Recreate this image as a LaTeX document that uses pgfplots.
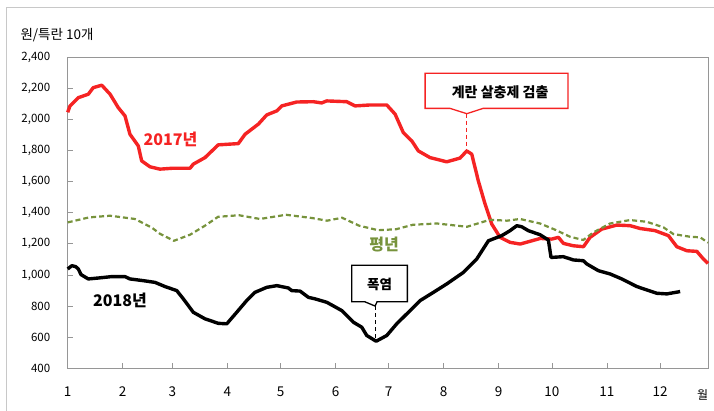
\documentclass[border=0pt]{standalone}
\usepackage{fontspec}
\setmainfont{Noto Sans CJK KR}
\usepackage{pgfplots}
\pgfplotsset{compat=1.18}
\definecolor{myred}{RGB}{245,35,35}
\definecolor{olive}{RGB}{119,147,60}
\definecolor{axgray}{RGB}{150,150,150}
\definecolor{framegray}{RGB}{200,200,200}
\begin{document}
\begin{tikzpicture}
\useasboundingbox (-67.7bp,-42.5bp) rectangle (646.3bp,368.5bp);
\draw[framegray, line width=0.8bp] (-61.7bp,-50bp) -- (-61.7bp,361.5bp) -- (660bp,361.5bp);
\begin{axis}[
  at={(0,0)}, anchor=south west,
  scale only axis, width=640.3bp, height=311.5bp,
  xmin=1, xmax=362, ymin=400, ymax=2400,
  xtick={1,32,60,91,121,152,182,213,244,274,305,335},
  xticklabels={1,2,3,4,5,6,7,8,9,10,11,12},
  ytick={400,600,...,2400},
  axis line style={draw=axgray, line width=0.8bp},
  tick style={draw=axgray, line width=0.8bp},
  major tick length=5bp,
  tick align=inside,
  tick pos=left,
  /pgf/number format/.cd, 1000 sep={,}, assume math mode=true,
  /pgfplots/.cd,
  xticklabel style={font=\fontsize{13.5bp}{15bp}\selectfont, yshift=-15bp},
  yticklabel style={font=\fontsize{11.5bp}{13bp}\selectfont, xshift=-14bp},
  clip=false,
]
% 2017
\addplot[myred, line width=3.4bp, line join=round] coordinates {
(1,2045)(2.3,2086)(7,2139)(12.6,2161)(15.4,2203)(20.2,2219)(24.9,2161)(29.5,2075)(33.3,2022)(36.1,1904)(40.8,1829)(42.7,1733)(47.4,1695)(53,1680)(60.5,1686)(70,1686)(71.8,1712)(78.4,1754)(85.9,1836)(97.2,1844)(101,1904)(108.5,1969)(113.2,2028)(118.9,2054)(121.7,2086)(130.1,2111)(139.5,2113)(144.2,2105)(147,2118)(158.3,2113)(163,2086)(171.5,2092)(180.9,2092)(185.6,2033)(190.2,1915)(195,1861)(198.7,1797)(205.3,1754)(214.7,1727)(222.2,1751)(226,1797)(228.8,1776)(232.5,1605)(236.3,1456)(240.1,1327)(244.8,1242)(250.4,1210)(256.1,1199)(267.4,1235)(273.9,1231)(277.7,1242)(280.5,1203)(286.1,1188)(291.8,1182)(295.5,1242)(302.1,1295)(310.6,1321)(318.1,1317)(323.7,1299)(332.2,1285)(339.7,1253)(344.4,1182)(350.1,1156)(355.7,1152)(359.4,1103)(362,1075)
};
% average
\addplot[olive, line width=2.2bp, dash pattern=on 5bp off 3bp] coordinates {
(1,1338)(13,1370)(24.9,1381)(38.9,1360)(48.5,1304)(53,1265)(60.9,1220)(70,1259)(78.4,1317)(85.8,1374)(97.6,1384)(109.4,1360)(124.1,1387)(138.8,1366)(147.2,1349)(155.7,1368)(165.3,1317)(176,1288)(186.1,1294)(195.7,1323)(209.2,1331)(226.1,1310)(239.1,1355)(248.7,1349)(256,1360)(267.3,1331)(275.8,1291)(284.2,1246)(291.7,1225)(297.4,1274)(306.8,1331)(318.1,1353)(327.5,1342)(336.9,1306)(342.5,1263)(351.9,1246)(357.6,1242)(362,1208)
};
% 2018
\addplot[black, line width=3.4bp, line join=round] coordinates {
(1,1039)(3.3,1060)(5.5,1054)(7,1039)(8.5,1003)(12.6,975)(18.3,981)(25.8,990)(33.3,990)(36.1,975)(43.6,964)(50.2,953)(55.9,926)(62.5,900)(66.2,847)(71.8,761)(78.4,719)(85.9,690)(90.7,687)(96.3,761)(101.9,836)(106.6,889)(113.2,921)(118.9,932)(125.4,917)(127.3,900)(132,897)(136.7,857)(140.5,847)(147.1,825)(155.5,772)(162.1,697)(166.8,665)(169.6,612)(174.9,575)(180.9,612)(186.5,687)(192.2,751)(199.7,836)(207.2,889)(214.7,943)(224.1,1017)(231.6,1103)(238.2,1220)(245.7,1253)(250.4,1285)(254.2,1317)(257,1310)(260.7,1285)(267.3,1259)(272,1225)(273.5,1113)(280.4,1118)(286.1,1097)(291.7,1092)(293.7,1071)(300.2,1028)(306.8,1007)(313.4,975)(321.9,926)(333.1,883)(338.8,879)(346.3,894)
};
% callouts
\draw[myred, line width=1.3bp, dash pattern=on 4bp off 3bp] (axis cs:226,2036) -- (axis cs:226,1800);
\draw[myred, line width=1.3bp, fill=white] (axis cs:202.5,2296) -- (axis cs:283.1,2296) -- (axis cs:283.1,2070) -- (axis cs:235.2,2070) -- (axis cs:226,2036) -- (axis cs:216.6,2070) -- (axis cs:202.5,2070) -- cycle;
\node[font=\bfseries\fontsize{14bp}{16bp}\selectfont] at (axis cs:244.8,2174) {계란 살충제 검출};
\draw[black, line width=1bp, dash pattern=on 4bp off 3bp] (axis cs:174.3,801) -- (axis cs:174.3,583);
\draw[black, line width=1.3bp, fill=white] (axis cs:161.1,1063) -- (axis cs:192.5,1063) -- (axis cs:192.5,828) -- (axis cs:175.4,828) -- (axis cs:174.3,801) -- (axis cs:168.6,828) -- (axis cs:161.1,828) -- cycle;
\node[font=\bfseries\fontsize{13.5bp}{15bp}\selectfont] at (axis cs:176.8,940) {폭염};
% series labels
\node[myred, font=\bfseries\fontsize{16bp}{18bp}\selectfont] at (axis cs:59,1871) {2017년};
\node[black, font=\bfseries\fontsize{16bp}{18bp}\selectfont] at (axis cs:30.5,839) {2018년};
\node[olive, font=\bfseries\fontsize{16bp}{18bp}\selectfont] at (axis cs:179.4,1198) {평년};
\end{axis}
\node[anchor=west, font=\fontsize{13.5bp}{15bp}\selectfont] at (-50.7bp,333.5bp) {원/특란 10개};
\node[font=\fontsize{12bp}{14bp}\selectfont] at (635bp,-26.5bp) {월};
\end{tikzpicture}
\end{document}
